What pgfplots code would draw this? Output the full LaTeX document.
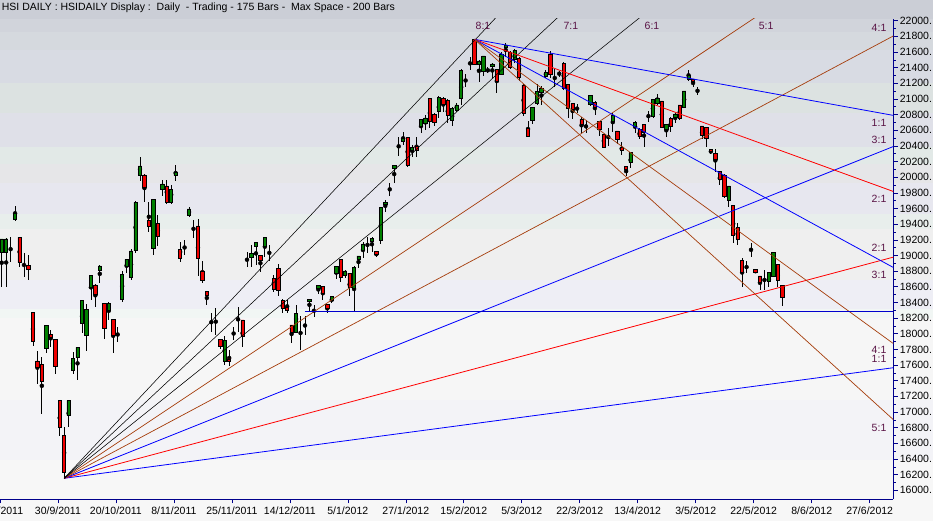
\documentclass[border=0pt]{standalone}
\usepackage{pgfplots}
\pgfplotsset{compat=1.18}
\usepackage{pgfplotstable}
\usepackage{fontspec}
\setmainfont{Liberation Sans}

\definecolor{axblue}{RGB}{0,0,140}
\definecolor{upg}{RGB}{0,128,0}
\definecolor{dnr}{RGB}{240,0,0}
\definecolor{fanbrown}{RGB}{165,60,10}
\definecolor{fanblue}{RGB}{0,0,255}
\definecolor{fanred}{RGB}{255,0,0}
\definecolor{suppblue}{RGB}{0,0,205}
\definecolor{ratio}{RGB}{90,20,70}
% background bands, top to bottom
\definecolor{bgA}{RGB}{203,206,214}
\definecolor{bgB}{RGB}{209,212,219}
\definecolor{bgC}{RGB}{213,217,222}
\definecolor{bgD}{RGB}{216,219,227}
\definecolor{bgE}{RGB}{220,226,225}
\definecolor{bgF}{RGB}{223,224,232}
\definecolor{bgG}{RGB}{226,233,231}
\definecolor{bgH}{RGB}{230,230,232}
\definecolor{bgI}{RGB}{231,231,239}
\definecolor{bgJ}{RGB}{232,238,236}
\definecolor{bgK}{RGB}{239,239,239}
\definecolor{bgL}{RGB}{238,238,245}
\definecolor{bgM}{RGB}{241,246,244}
\definecolor{bgN}{RGB}{246,246,246}
\definecolor{bgO}{RGB}{243,243,247}
\definecolor{bgP}{RGB}{247,247,247}

% daily candles: bar index, open, high, low, close
\pgfplotstableread{
i o h l c
0 19045 19215 18601 19211
1 19045 19220 18601 19211
2 19189 19240 18921 19189
3 19463 19633 19445 19539
4 19233 19236 18857 18913
5 19006 19036 18721 19006
6 18875 19006 18687 18824
7 18274 18278 17844 17899
8 17652 17780 17354 17566
9 17610 17699 16971 17388
10 17814 18115 17750 18108
11 17993 18048 17835 17955
12 17929 17935 17482 17588
13 17150 17155 16694 16805
14 16706 16805 16153 16230
15 16953 17155 16813 17150
16 17528 17767 17482 17687
17 17694 17835 17409 17827
18 18134 18435 18014 18428
19 17975 18380 17784 18313
20 18589 18755 18431 18747
21 18623 18636 18346 18504
22 18806 18879 18652 18866
23 18389 18395 17933 18070
24 18295 18410 18176 18389
25 18185 18190 17758 17975
26 18022 18090 17891 18022
27 18440 18806 18410 18760
28 18857 18958 18780 18951
29 18721 19083 18687 19058
30 19061 19690 19028 19680
31 20029 20255 19952 20144
32 20029 20035 19687 19866
33 19454 19684 19304 19377
34 19092 19725 19006 19718
35 19411 19518 19121 19240
36 19846 19965 19760 19914
37 19888 19965 19654 19680
38 19680 19901 19654 19846
39 20020 20156 19952 20063
40 19079 19169 18921 18964
41 19143 19198 19006 19143
42 19509 19624 19488 19594
43 19317 19454 19228 19317
44 19377 19463 18738 18964
45 18802 18930 18645 18678
46 18543 18547 18368 18486
47 18210 18269 18026 18210
48 18231 18325 17984 18231
49 17929 17933 17802 17844
50 17643 17971 17601 17920
51 17678 17793 17588 17652
52 18042 18086 17920 18042
53 18231 18342 18026 18231
54 18176 18180 17835 17971
55 19013 19045 18847 19013
56 18977 19134 18857 19028
57 19112 19175 18879 19169
58 19006 19010 18793 18934
59 19112 19240 18985 19236
60 19112 19134 18934 19112
61 18709 18751 18538 18572
62 18836 18891 18486 18559
63 18431 18440 18269 18325
64 18338 18431 18269 18295
65 18112 18118 17878 18014
66 18014 18368 18010 18262
67 18048 18227 17793 18048
68 18048 18227 17984 18048
69 18415 18445 18295 18440
70 18355 18368 18218 18355
71 18581 18623 18508 18614
72 18601 18605 18431 18517
73 18377 18380 18269 18325
74 18422 18478 18389 18474
75 18773 18866 18696 18857
76 18951 18955 18665 18721
77 18751 18815 18713 18802
78 18773 18778 18482 18594
79 18581 18860 18284 18849
80 18951 18998 18836 18994
81 19070 19176 18964 19147
82 19105 19233 19036 19105
83 19176 19240 19048 19220
84 19054 19058 18977 19015
85 19189 19620 19147 19616
86 19654 19709 19560 19680
87 19850 19930 19760 19850
88 20112 20158 19922 20153
89 20441 20518 20271 20441
90 20454 20582 20412 20501
91 20510 20515 20135 20156
92 20339 20412 20262 20383
93 20399 20518 20262 20348
94 20646 20745 20561 20740
95 20689 20795 20604 20757
96 21009 21015 20626 20710
97 20804 20825 20658 20702
98 20846 21038 20753 21021
99 21009 21021 20837 20936
100 20978 20996 20689 20795
101 20722 20901 20658 20881
102 20859 20945 20837 20923
103 21009 21379 20923 21361
104 21285 21315 21157 21285
105 21511 21540 21370 21511
106 21762 21762 21435 21443
107 21443 21498 21221 21485
108 21348 21555 21297 21549
109 21370 21405 21328 21370
110 21412 21464 21264 21447
111 21379 21385 21072 21221
112 21315 21604 21306 21575
113 21660 21711 21540 21690
114 21591 21617 21379 21405
115 21511 21635 21456 21617
116 21520 21540 21230 21272
117 21179 21185 20782 20817
118 20626 20722 20510 20527
119 20722 20898 20680 20893
120 20945 21191 20923 21093
121 21080 21166 20923 21136
122 21294 21370 21264 21341
123 21575 21617 21264 21319
124 21348 21379 21157 21348
125 21348 21361 21285 21348
126 21456 21476 21115 21136
127 21187 21191 20753 20881
128 20945 20952 20740 20872
129 20893 20936 20817 20893
130 20740 20766 20561 20680
131 20667 20731 20569 20667
132 20936 21050 20911 21044
133 20957 20978 20789 20897
134 20710 20722 20527 20613
135 20552 20558 20370 20383
136 20518 20626 20399 20518
137 20710 20825 20582 20795
138 20591 20595 20421 20485
139 20383 20446 20284 20348
140 20135 20140 20016 20102
141 20186 20326 20114 20314
142 20655 20722 20569 20702
143 20613 20626 20485 20518
144 20676 20680 20383 20569
145 20795 20850 20710 20795
146 20774 21000 20753 20996
147 20945 21063 20923 21009
148 20974 20978 20626 20633
149 20613 20680 20518 20676
150 20753 20774 20582 20655
151 20766 20817 20697 20808
152 20923 20928 20731 20753
153 20893 21106 20881 21102
154 21255 21370 21233 21306
155 21255 21260 21149 21230
156 21106 21157 21051 21106
157 20655 20660 20485 20540
158 20638 20642 20383 20497
159 20357 20360 20297 20335
160 20306 20357 20071 20229
161 20071 20076 19901 19974
162 20029 20035 19731 19751
163 19709 19893 19624 19888
164 19645 19650 19164 19262
165 19360 19419 19134 19207
166 18942 18964 18601 18785
167 18913 18930 18773 18913
168 19048 19164 18981 19048
169 18824 18828 18770 18785
170 18738 18742 18559 18652
171 18709 18815 18559 18709
172 18665 18790 18601 18785
173 18729 19048 18720 19041
174 18891 18896 18601 18687
175 18619 18625 18355 18466
}\candles

\pgfplotsset{
  hsi/.style={
    at={(0pt,22pt)}, anchor=south west, scale only axis,
    width=893.3pt, height=480pt,
    xmin=-0.38, xmax=199.9, ymin=15888.8, ymax=22021.7,
    enlargelimits=false,
  },
}
\tikzset{ratiolab/.style={font=\fontsize{10.5}{12}\selectfont, text=ratio, inner sep=0pt}}

\begin{document}
\begin{tikzpicture}
% banded background
\fill[bgA] (0pt,502pt) rectangle (933pt,521pt);
\fill[bgB] (0pt,489pt) rectangle (933pt,502pt);
\fill[bgC] (0pt,471pt) rectangle (933pt,489pt);
\fill[bgD] (0pt,438pt) rectangle (933pt,471pt);
\fill[bgE] (0pt,408pt) rectangle (933pt,438pt);
\fill[bgF] (0pt,374pt) rectangle (933pt,408pt);
\fill[bgG] (0pt,357pt) rectangle (933pt,374pt);
\fill[bgH] (0pt,338pt) rectangle (933pt,357pt);
\fill[bgI] (0pt,307pt) rectangle (933pt,338pt);
\fill[bgJ] (0pt,292pt) rectangle (933pt,307pt);
\fill[bgK] (0pt,241pt) rectangle (933pt,292pt);
\fill[bgL] (0pt,212pt) rectangle (933pt,241pt);
\fill[bgM] (0pt,203pt) rectangle (933pt,212pt);
\fill[bgN] (0pt,121pt) rectangle (933pt,203pt);
\fill[bgO] (0pt,61pt) rectangle (933pt,121pt);
\fill[bgP] (0pt,0pt) rectangle (933pt,61pt);

\node[anchor=base west, inner sep=0pt, font=\fontsize{10.5}{12}\selectfont] at (1.7pt,510.5pt)
  {HSI DAILY : HSIDAILY Display :\ \ Daily\ \ - Trading - 175 Bars -\ \ Max Space - 200 Bars};

% axis with ticks and wicks
\begin{axis}[hsi,
  axis x line*=bottom, axis y line*=right,
  axis line style={draw=axblue, line width=0.9pt, -},
  xtick pos=bottom, ytick pos=right, yticklabel pos=right,
  tick align=outside, major tick length=4.5pt, minor tick length=2.5pt,
  every tick/.style={axblue, line width=0.6pt},
  scaled y ticks=false,
  xtick={-0.35,12.6,25.6,38.6,51.6,64.6,77.6,90.6,103.6,116.6,129.6,142.6,155.6,168.6,181.6,194.6},
  xticklabels={13/9/2011,30/9/2011,20/10/2011,8/11/2011,25/11/2011,14/12/2011,5/1/2012,27/1/2012,15/2/2012,5/3/2012,22/3/2012,13/4/2012,3/5/2012,22/5/2012,8/6/2012,27/6/2012},
  minor x tick num=4,
  ytick={16000,16200,...,22000},
  yticklabels={16000.,16200.,16400.,16600.,16800.,17000.,17200.,17400.,17600.,17800.,18000.,18200.,18400.,18600.,18800.,19000.,19200.,19400.,19600.,19800.,20000.,20200.,20400.,20600.,20800.,21000.,21200.,21400.,21600.,21800.,22000.},
  minor y tick num=1,
  x tick label style={font=\fontsize{10.5}{12}\selectfont, text=black},
  y tick label style={font=\fontsize{10.5}{12}\selectfont, text=black, anchor=west, xshift=-1.5pt},
]
\addplot [only marks, mark=none,
  error bars/.cd, y dir=both, y explicit, error mark=none,
  error bar style={draw=black, solid, line width=0.8pt}]
  table [x=i, y expr={0.5*(\thisrow{h}+\thisrow{l})}, y error expr={0.5*(\thisrow{h}-\thisrow{l})}] {\candles};
\end{axis}

% candle bodies
\begin{axis}[hsi, hide axis, ybar stacked, bar width=3.3pt]
\addplot [draw=none, fill=none] table [x=i, y expr={min(\thisrow{o},\thisrow{c})}] {\candles};
\addplot [draw=black, fill=upg, line width=0.7pt] table [x=i, y expr={max(\thisrow{c}-\thisrow{o},0)}] {\candles};
\addplot [draw=black, fill=dnr, line width=0.7pt] table [x=i, y expr={max(\thisrow{o}-\thisrow{c},0)}] {\candles};
\end{axis}

% Gann fans, support line and ratio labels
\begin{axis}[hsi, hide axis]
% fan from the low
\addplot [fanblue, line width=0.8pt] coordinates {(14,16153) (199.9,17566)};
\addplot [fanred, line width=0.8pt] coordinates {(14,16153) (199.9,18979)};
\addplot [fanblue, line width=0.8pt] coordinates {(14,16153) (199.9,20392)};
\addplot [fanbrown, line width=0.7pt] coordinates {(14,16153) (199.9,21805)};
\addplot [fanbrown, line width=0.7pt] coordinates {(14,16153) (199.9,23217)};
\addplot [black, line width=0.55pt] coordinates {(14,16153) (199.9,24631)};
\addplot [black, line width=0.55pt] coordinates {(14,16153) (199.9,26044)};
\addplot [black, line width=0.55pt] coordinates {(14,16153) (199.9,27457)};
% fan from the high
\addplot [fanblue, line width=0.8pt] coordinates {(106,21762) (199.9,20790)};
\addplot [fanred, line width=0.8pt] coordinates {(106,21762) (199.9,19818)};
\addplot [fanblue, line width=0.8pt] coordinates {(106,21762) (199.9,18847)};
\addplot [fanbrown, line width=0.7pt] coordinates {(106,21762) (199.9,17875)};
\addplot [fanbrown, line width=0.7pt] coordinates {(106,21762) (199.9,16903)};
% horizontal support
\addplot [suppblue, line width=0.9pt] coordinates {(68,18284) (199.9,18284)};

\node[ratiolab] at (axis cs:107.9,21932) {8:1};
\node[ratiolab] at (axis cs:127.6,21932) {7:1};
\node[ratiolab] at (axis cs:145.8,21932) {6:1};
\node[ratiolab] at (axis cs:171.4,21932) {5:1};
\node[ratiolab] at (axis cs:196.7,21903) {4:1};
\node[ratiolab] at (axis cs:196.7,20697) {1:1};
\node[ratiolab] at (axis cs:196.7,20476) {3:1};
\node[ratiolab] at (axis cs:196.7,19718) {2:1};
\node[ratiolab] at (axis cs:196.7,19092) {2:1};
\node[ratiolab] at (axis cs:196.7,18747) {3:1};
\node[ratiolab] at (axis cs:196.7,17793) {4:1};
\node[ratiolab] at (axis cs:196.7,17674) {1:1};
\node[ratiolab] at (axis cs:196.7,16792) {5:1};
\end{axis}

\pgfresetboundingbox
\path[use as bounding box] (0pt,0pt) rectangle (933pt,521pt);
\end{tikzpicture}
\end{document}
